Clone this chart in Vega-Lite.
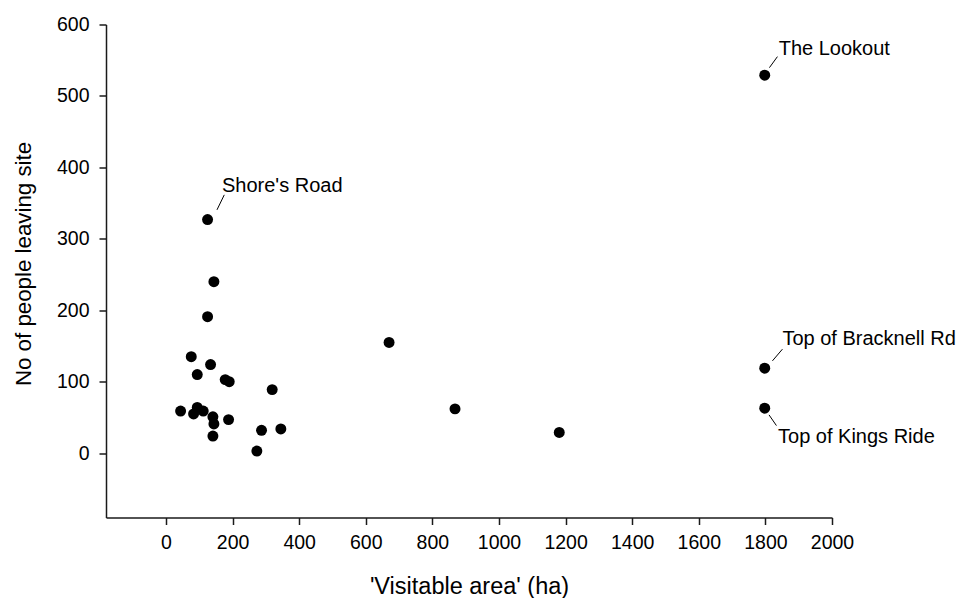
{
  "$schema": "https://vega.github.io/schema/vega-lite/v6.json",
  "autosize": "none",
  "width": 726,
  "height": 493,
  "padding": {"left": 106, "top": 24.5, "right": 131, "bottom": 80.5},
  "background": "white",
  "config": {
    "view": {"stroke": null},
    "font": "Liberation Sans",
    "axis": {
      "grid": false,
      "domainColor": "#1a1a1a",
      "domainWidth": 1.5,
      "tickColor": "#1a1a1a",
      "tickWidth": 1.5,
      "tickSize": 7,
      "labelFont": "Liberation Sans",
      "labelFontSize": 19.5,
      "labelColor": "#000000",
      "labelOverlap": false,
      "labelFlush": false,
      "titleFont": "Liberation Sans",
      "titleFontSize": 23.5,
      "titleFontWeight": "normal",
      "titleColor": "#000000"
    }
  },
  "data": {
    "values": [
      {"area": 125, "people": 327, "name": "Shore's Road"},
      {"area": 144, "people": 240, "name": ""},
      {"area": 125, "people": 191, "name": ""},
      {"area": 76, "people": 135, "name": ""},
      {"area": 134, "people": 124, "name": ""},
      {"area": 94, "people": 110, "name": ""},
      {"area": 178, "people": 103, "name": ""},
      {"area": 190, "people": 100, "name": ""},
      {"area": 319, "people": 89, "name": ""},
      {"area": 670, "people": 155, "name": ""},
      {"area": 868, "people": 62, "name": ""},
      {"area": 44, "people": 59, "name": ""},
      {"area": 94, "people": 64, "name": ""},
      {"area": 83, "people": 55, "name": ""},
      {"area": 112, "people": 59, "name": ""},
      {"area": 141, "people": 51, "name": ""},
      {"area": 188, "people": 47, "name": ""},
      {"area": 144, "people": 41, "name": ""},
      {"area": 141, "people": 24, "name": ""},
      {"area": 287, "people": 32, "name": ""},
      {"area": 345, "people": 34, "name": ""},
      {"area": 273, "people": 3, "name": ""},
      {"area": 1181, "people": 29, "name": ""},
      {"area": 1798, "people": 119, "name": "Top of Bracknell Rd"},
      {"area": 1798, "people": 63, "name": "Top of Kings Ride"},
      {"area": 1798, "people": 529, "name": "The Lookout"}
    ]
  },
  "encoding": {
    "x": {
      "field": "area",
      "type": "quantitative",
      "scale": {"domain": [-180, 2000], "nice": false, "zero": false},
      "axis": {
        "values": [0, 200, 400, 600, 800, 1000, 1200, 1400, 1600, 1800, 2000],
        "format": "d",
        "title": "'Visitable area' (ha)",
        "labelPadding": 9,
        "titleBaseline": "alphabetic",
        "titleY": 76
      }
    },
    "y": {
      "field": "people",
      "type": "quantitative",
      "scale": {"domain": [-90, 600], "nice": false, "zero": false},
      "axis": {
        "values": [0, 100, 200, 300, 400, 500, 600],
        "format": "d",
        "title": "No of people leaving site",
        "titleFontSize": 22.3,
        "labelPadding": 10,
        "titleBaseline": "alphabetic",
        "titleX": -76,
        "titleY": 239,
        "titleAlign": "center",
        "titleAngle": -90
      }
    }
  },
  "layer": [
    {
      "mark": {"type": "circle", "size": 120, "color": "#000000", "opacity": 1}
    },
    {
      "transform": [{"filter": "datum.name == \"Shore's Road\""}],
      "mark": {"type": "rule", "color": "#000000", "strokeWidth": 1, "xOffset": 9.4, "yOffset": -9.7, "x2Offset": 16.7, "y2Offset": -24.7},
      "encoding": {"x2": {"field": "area"}, "y2": {"field": "people"}}
    },
    {
      "transform": [{"filter": "datum.name == \"Shore's Road\""}],
      "mark": {"type": "text", "align": "left", "baseline": "alphabetic", "dx": 14.4, "dy": -27.7, "fontSize": 20, "font": "Liberation Sans", "color": "#000000"},
      "encoding": {"text": {"field": "name"}}
    },
    {
      "transform": [{"filter": "datum.name == 'The Lookout'"}],
      "mark": {"type": "rule", "color": "#000000", "strokeWidth": 1, "xOffset": 4.7, "yOffset": -7.6, "x2Offset": 12.7, "y2Offset": -18.6},
      "encoding": {"x2": {"field": "area"}, "y2": {"field": "people"}}
    },
    {
      "transform": [{"filter": "datum.name == 'The Lookout'"}],
      "mark": {"type": "text", "align": "left", "baseline": "alphabetic", "dx": 14, "dy": -20.3, "fontSize": 20, "font": "Liberation Sans", "color": "#000000"},
      "encoding": {"text": {"field": "name"}}
    },
    {
      "transform": [{"filter": "datum.name == 'Top of Bracknell Rd'"}],
      "mark": {"type": "rule", "color": "#000000", "strokeWidth": 1, "xOffset": 7.7, "yOffset": -7.3, "x2Offset": 17.7, "y2Offset": -19},
      "encoding": {"x2": {"field": "area"}, "y2": {"field": "people"}}
    },
    {
      "transform": [{"filter": "datum.name == 'Top of Bracknell Rd'"}],
      "mark": {"type": "text", "align": "left", "baseline": "alphabetic", "dx": 17.7, "dy": -23.3, "fontSize": 20, "font": "Liberation Sans", "color": "#000000"},
      "encoding": {"text": {"field": "name"}}
    },
    {
      "transform": [{"filter": "datum.name == 'Top of Kings Ride'"}],
      "mark": {"type": "rule", "color": "#000000", "strokeWidth": 1, "xOffset": 4.3, "yOffset": 6.7, "x2Offset": 11.7, "y2Offset": 17.4},
      "encoding": {"x2": {"field": "area"}, "y2": {"field": "people"}}
    },
    {
      "transform": [{"filter": "datum.name == 'Top of Kings Ride'"}],
      "mark": {"type": "text", "align": "left", "baseline": "alphabetic", "dx": 13.3, "dy": 34.4, "fontSize": 20, "font": "Liberation Sans", "color": "#000000"},
      "encoding": {"text": {"field": "name"}}
    }
  ]
}
